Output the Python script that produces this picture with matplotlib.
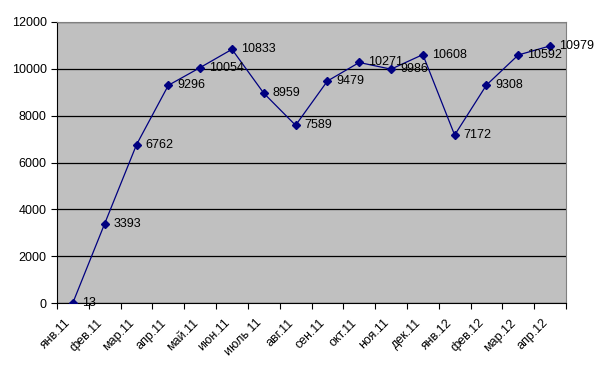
import matplotlib.pyplot as plt
import matplotlib.transforms as mtransforms
import numpy as np

months = ["янв.11", "фев.11", "мар.11", "апр.11", "май.11", "июн.11", "июль 11", "авг.11",
          "сен.11", "окт.11", "ноя.11", "дек.11", "янв.12", "фев.12", "мар.12", "апр.12"]
values = [13, 3393, 6762, 9296, 10054, 10833, 8959, 7589,
          9479, 10271, 9986, 10608, 7172, 9308, 10592, 10979]

plt.rcParams['font.family'] = ['Liberation Sans', 'DejaVu Sans']

fig = plt.figure(figsize=(5.99, 3.70), dpi=100)
ax = fig.add_axes([57/599, 1 - 303/370, 509/599, 281/370])
ax.set_facecolor('#C0C0C0')

x = np.arange(len(months))
ax.plot(x, values, color='#000080', lw=0.9, marker='D', ms=4, zorder=3)
for xi, v in zip(x, values):
    ax.annotate(str(v), (xi, v), xytext=(6.5, 0), textcoords='offset points',
                va='center', ha='left', fontsize=9, zorder=4)

ax.set_xlim(-0.5, len(months) - 0.5)
ax.set_ylim(0, 12000)
ax.set_yticks(range(0, 12001, 2000))
ax.yaxis.grid(True, color='black', lw=0.9)
ax.set_axisbelow(True)

ax.set_xticks(np.arange(-0.5, len(months), 1))
ax.set_xticklabels([])
ax.set_xticks(x, minor=True)
ax.set_xticklabels(months, minor=True, rotation=45, ha='right', rotation_mode='anchor', fontsize=9)
ax.tick_params(axis='x', which='minor', length=0, pad=10)
ax.tick_params(axis='x', which='major', length=4, direction='out')
ax.tick_params(axis='y', length=4, direction='out', labelsize=9)

shift = mtransforms.ScaledTranslation(-8/100, 0, fig.dpi_scale_trans)
for lbl in ax.get_xticklabels(minor=True):
    lbl.set_transform(lbl.get_transform() + shift)

for s in ['top', 'right']:
    ax.spines[s].set_color('#808080')
for s in ['left', 'bottom']:
    ax.spines[s].set_color('black')

fig.savefig('out.png', dpi=100)
